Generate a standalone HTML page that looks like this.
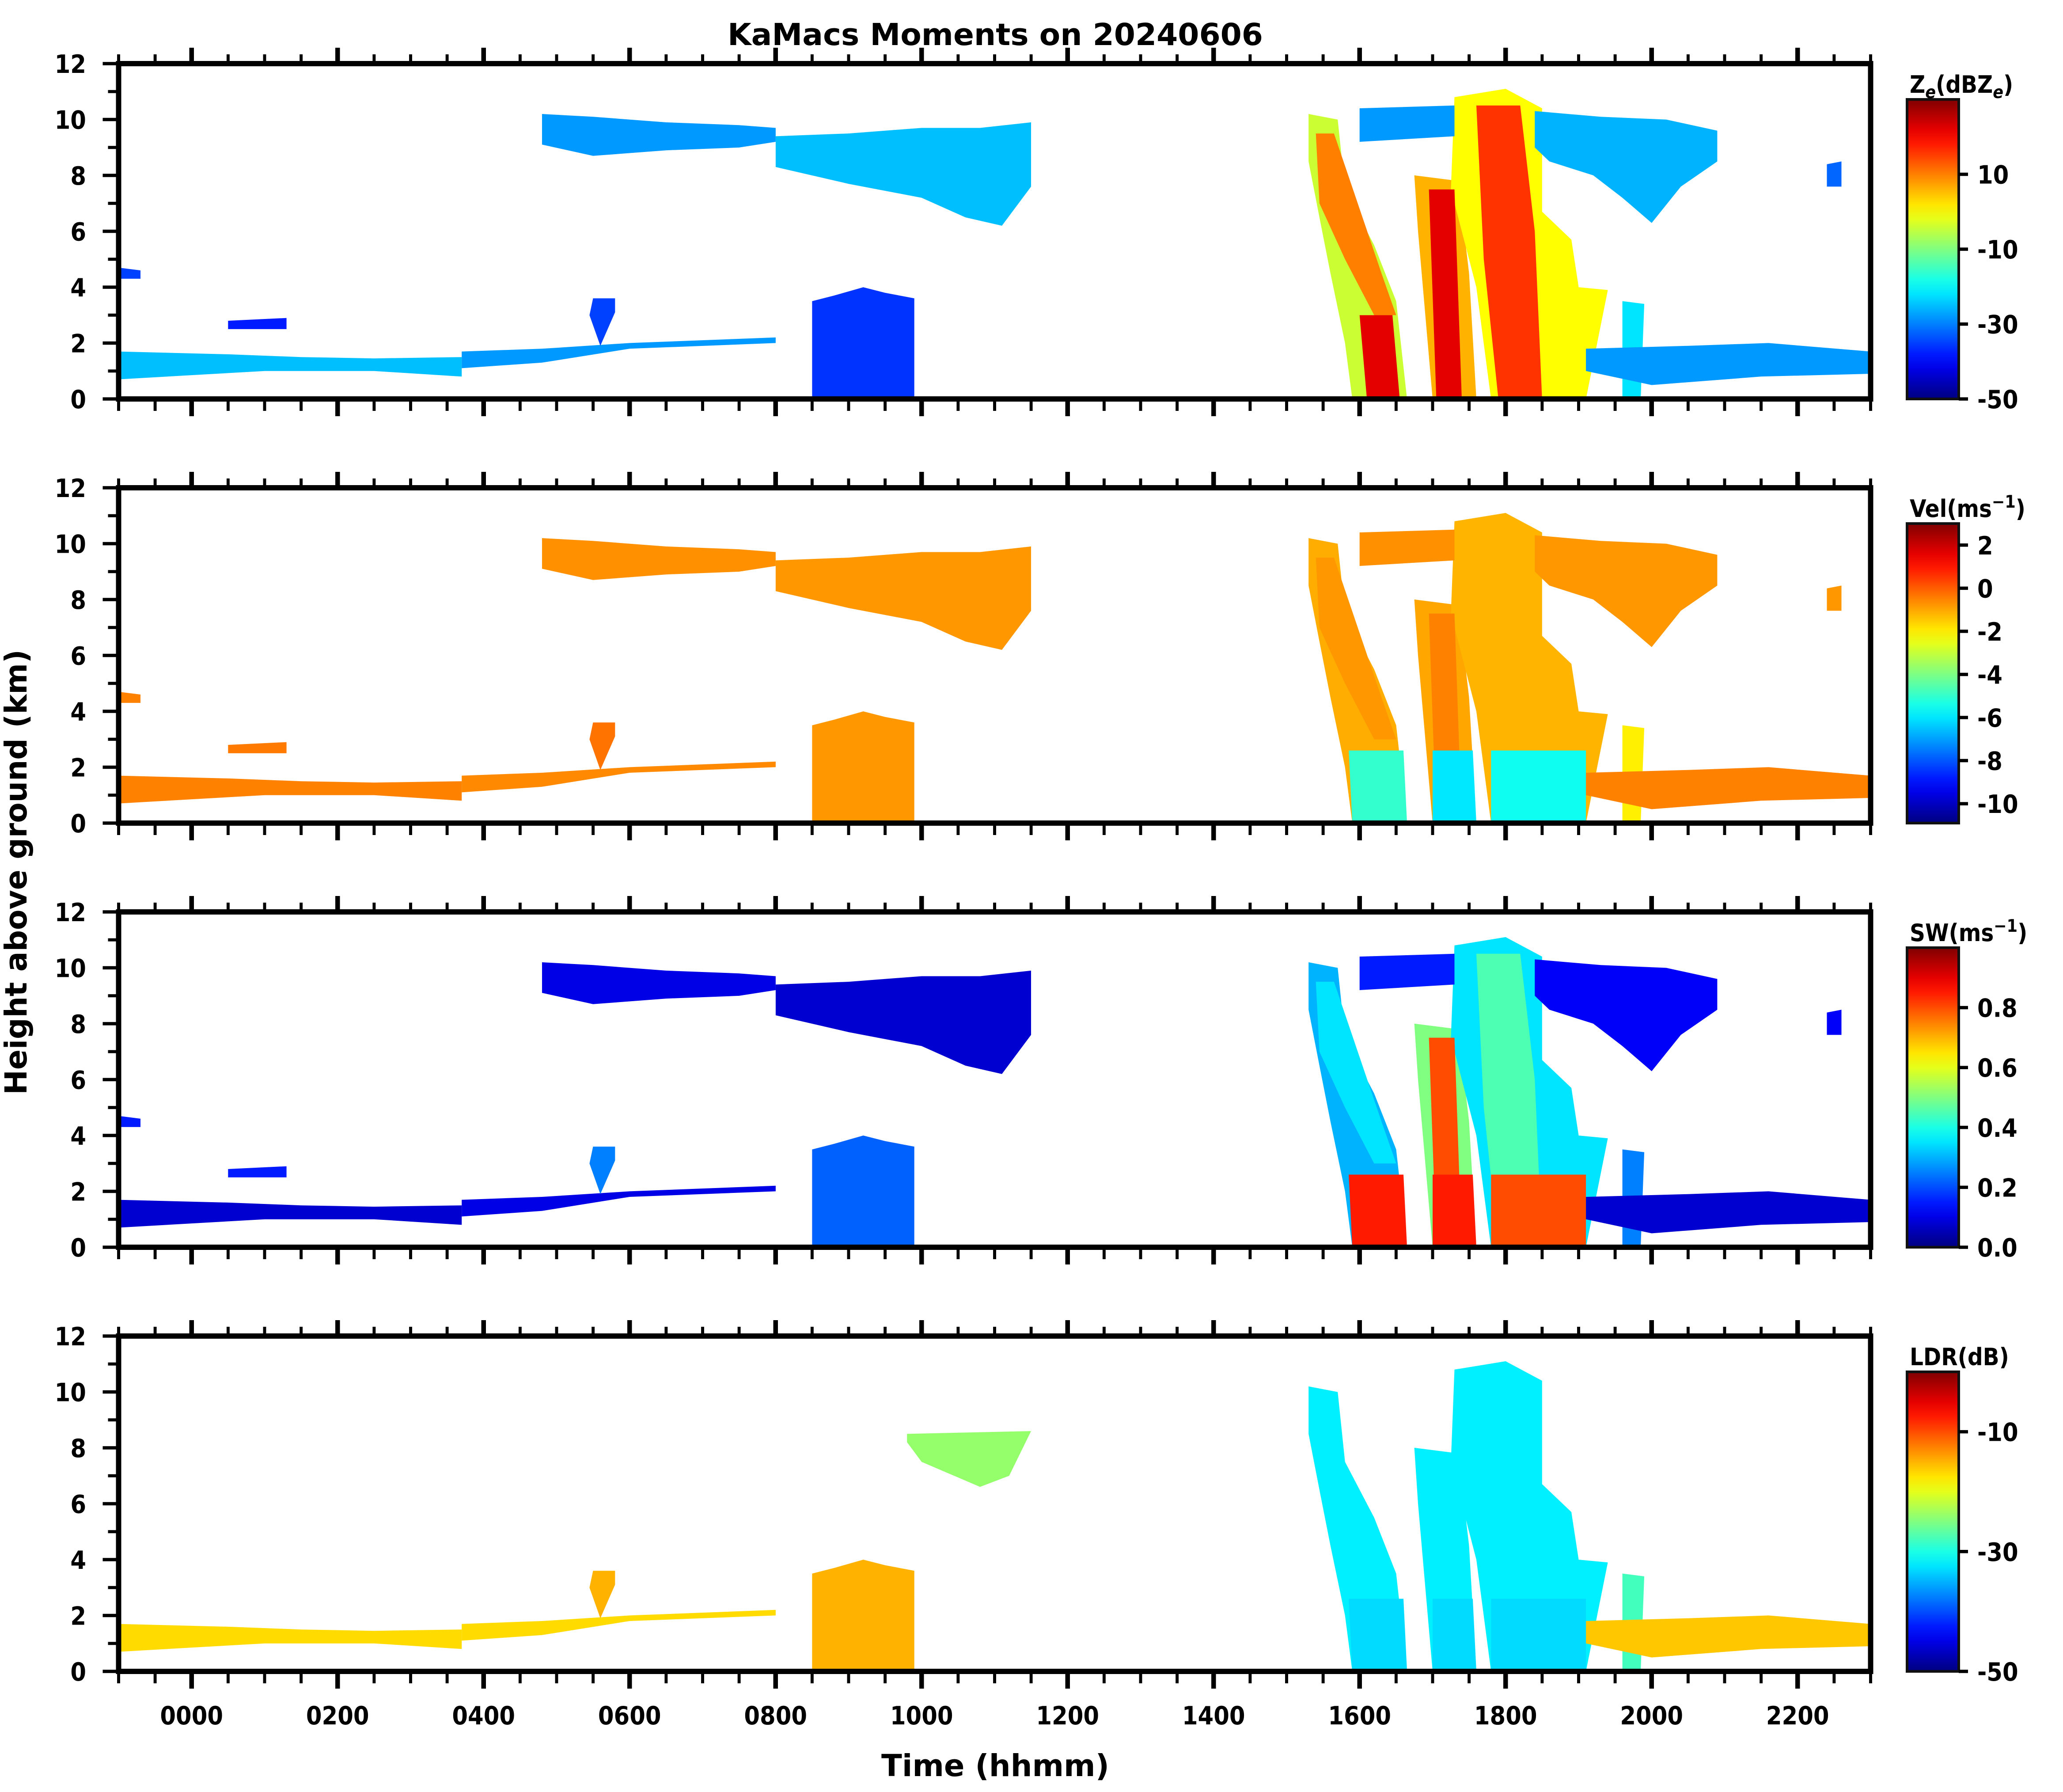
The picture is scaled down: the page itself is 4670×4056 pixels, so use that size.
<!DOCTYPE html>
<html><head><meta charset="utf-8"><style>
html,body{margin:0;padding:0;background:#fff;}
svg{display:block;}
text{font-family:"DejaVu Sans Condensed","DejaVu Sans","Liberation Sans",sans-serif;font-weight:bold;fill:#000;}
</style></head><body>
<svg id="fig" width="4670" height="4056" viewBox="0 0 1556.67 1352" xmlns="http://www.w3.org/2000/svg">
<text x="751" y="34" font-size="23" text-anchor="middle" textLength="404" lengthAdjust="spacingAndGlyphs">KaMacs Moments on 20240606</text>
<text transform="translate(20,658) rotate(-90)" font-size="23" text-anchor="middle" textLength="336" lengthAdjust="spacingAndGlyphs">Height above ground (km)</text>
<text x="751" y="1340" font-size="23" text-anchor="middle" textLength="172" lengthAdjust="spacingAndGlyphs">Time (hhmm)</text>
<g id="layer"></g>
</svg>
<script>
// ---- data ----
const panelNames = ["ze","vel","sw","ldr"];
const yTicks = [0,2,4,6,8,10,12];
const yMinorTicks = [1,3,5,7,9,11];
const xTickHours = [0,2,4,6,8,10,12,14,16,18,20,22];
const xTickLabels = ["0000","0200","0400","0600","0800","1000","1200","1400","1600","1800","2000","2200"];
const cbRanges = [[-50,30],[-10.9,3],[0,1],[-50,0]];
const cbTicks = [[10,-10,-30,-50],[2,0,-2,-4,-6,-8,-10],[0.8,0.6,0.4,0.2,0.0],[-10,-30,-50]];
const cbTickLabels = [["10","-10","-30","-50"],["2","0","-2","-4","-6","-8","-10"],["0.8","0.6","0.4","0.2","0.0"],["-10","-30","-50"]];
// echo outlines: [hour, km] points
const cloudShapes = [
 [[-1,4.7],[-0.7,4.6],[-0.7,4.3],[-1,4.3]],
 [[-1,1.7],[0.5,1.6],[1.5,1.5],[2.5,1.45],[3.7,1.5],[3.7,0.8],[2.5,1.0],[1,1.0],[-1,0.7]],
 [[3.7,1.7],[4.8,1.8],[6,2.0],[8,2.2],[8,2.0],[6,1.8],[4.8,1.3],[3.7,1.1]],
 [[0.5,2.8],[1.3,2.9],[1.3,2.5],[0.5,2.5]],
 [[4.8,10.2],[5.5,10.1],[6.5,9.9],[7.5,9.8],[8.0,9.7],[8.0,9.2],[7.5,9.0],[6.5,8.9],[5.5,8.7],[4.8,9.1]],
 [[8.0,9.4],[9.0,9.5],[10.0,9.7],[10.8,9.7],[11.5,9.9],[11.5,7.6],[11.1,6.2],[10.6,6.5],[10.0,7.2],[9.0,7.7],[8.0,8.3]],
 [[5.5,3.6],[5.8,3.6],[5.8,3.1],[5.6,1.9],[5.45,3.0]],
 [[8.5,3.5],[8.8,3.7],[9.2,4.0],[9.5,3.8],[9.9,3.6],[9.9,0],[8.5,0]],
 [[15.3,10.2],[15.7,10.0],[15.8,7.5],[16.2,5.5],[16.5,3.5],[16.65,0],[15.9,0],[15.8,2],[15.6,4.5],[15.45,6.5],[15.3,8.5]],
 [[16.75,8.0],[17.35,7.8],[17.5,4.5],[17.6,0],[17.0,0],[16.9,3],[16.8,6]],
 [[17.3,10.8],[18.0,11.1],[18.5,10.4],[18.5,6.7],[18.9,5.7],[19.0,4.0],[19.4,3.9],[19.3,2.6],[19.1,0],[17.8,0],[17.6,4],[17.25,7.5]],
 [[18.4,10.3],[19.3,10.1],[20.2,10.0],[20.9,9.6],[20.9,8.5],[20.4,7.6],[20.0,6.3],[19.6,7.2],[19.2,8.0],[18.6,8.5],[18.4,9.0]],
 [[16.0,10.4],[17.3,10.5],[17.3,9.4],[16.0,9.2]],
 [[19.6,3.5],[19.9,3.4],[19.85,0],[19.6,0]],
 [[19.1,1.8],[20.5,1.9],[21.6,2.0],[23,1.7],[23,0.9],[21.5,0.8],[20,0.5],[19.1,1.0]],
 [[22.4,8.4],[22.6,8.5],[22.6,7.6],[22.4,7.6]],
 [[15.4,9.5],[15.65,9.5],[16.3,4.5],[16.5,3],[16.2,3],[15.8,5],[15.45,7]],
 [[16.0,3],[16.45,3],[16.55,0],[16.1,0]],
 [[16.95,7.5],[17.3,7.5],[17.4,0],[17.05,0]],
 [[17.6,10.5],[18.2,10.5],[18.4,6],[18.5,0],[17.9,0],[17.7,5]],
 [[15.85,2.6],[16.6,2.6],[16.65,0],[15.9,0]],
 [[17.0,2.6],[17.55,2.6],[17.6,0],[17.0,0]],
 [[17.8,2.6],[19.1,2.6],[19.1,0],[17.8,0]],
 [[9.8,8.5],[11.5,8.6],[11.2,7.0],[10.8,6.6],[10.0,7.5],[9.8,8.2]]
];
const zeValues  = [-35,-25,-28,-38,-28,-25,-35,-36,-4,6,0,-26,-28,-22,-28,-32,10,22,22,16,null,null,null,null];
const velValues = [-0.5,-0.5,-0.6,-0.4,-0.7,-0.8,-0.3,-0.8,-1.1,-1.0,-1.2,-0.8,-0.7,-2,-0.5,-0.8,-0.8,null,-0.5,-1.2,-5,-6,-5.5,null];
const swValues  = [0.15,0.08,0.1,0.15,0.1,0.08,0.25,0.22,0.3,0.5,0.35,0.12,0.15,0.25,0.08,0.12,0.35,null,0.8,0.45,0.85,0.85,0.8,null];
const ldrValues = [null,-17,-17,null,null,null,-15,-15,-32,-32,-32,null,null,-28,-16,null,null,null,null,null,-33,-33,-33,-24];
const panelValues = [zeValues,velValues,swValues,ldrValues];

// ---- layout ----
const NS="http://www.w3.org/2000/svg";
const layer=document.getElementById('layer');
const X0=89.5,X1=1411.5,T0=-1,T1=23;
const panelTops=[48,368,688,1008], PH=253;
const CBX=1439, CBW=39, CBOFF=27;
function xs(t){return X0+(t-T0)/(T1-T0)*(X1-X0);}
function ys(p,z){return panelTops[p]+PH-z/12*PH;}
function jet(f){f=Math.max(0,Math.min(1,f));
 const r=Math.max(0,Math.min(1,1.5-Math.abs(4*f-3))),g=Math.max(0,Math.min(1,1.5-Math.abs(4*f-2))),b=Math.max(0,Math.min(1,1.5-Math.abs(4*f-1)));
 return `rgb(${Math.round(r*255)},${Math.round(g*255)},${Math.round(b*255)})`;}
function mk(tag,attrs,parent){const e=document.createElementNS(NS,tag);for(const k in attrs)e.setAttribute(k,attrs[k]);(parent||layer).appendChild(e);return e;}

const defs=mk('defs',{});
const grad=mk('linearGradient',{id:'jetgrad',x1:0,y1:1,x2:0,y2:0},defs);
for(let i=0;i<=20;i++){mk('stop',{offset:i/20,'stop-color':jet(i/20)},grad);}

for(let p=0;p<4;p++){
 const g=mk('g',{});
 
 
 const [lo,hi]=cbRanges[p];
 const vals=panelValues[p];
 cloudShapes.forEach((shape,i)=>{
  const v=vals[i]; if(v===null||v===undefined) return;
  const pts=shape.map(([t,z])=>xs(t).toFixed(1)+','+ys(p,z).toFixed(1)).join(' ');
  const poly=mk('polygon',{points:pts,fill:jet((v-lo)/(hi-lo))},g);
  
  
 });
 const top=panelTops[p],bot=top+PH;
 const fr=mk('rect',{x:X0,y:top,width:X1-X0,height:PH,fill:'none',stroke:'#000','stroke-width':4},g);
 
 
 yTicks.forEach(z=>{
  mk('line',{x1:X0-12,x2:X0,y1:ys(p,z),y2:ys(p,z),stroke:'#000','stroke-width':2.5},g);
  const tl=mk('text',{x:65,y:ys(p,z)+7,'font-size':19,'text-anchor':'end'},g);
  tl.textContent=z;
  
  
 });
 yMinorTicks.forEach(z=>{mk('line',{x1:X0-8,x2:X0,y1:ys(p,z),y2:ys(p,z),stroke:'#000','stroke-width':2.3},g);});
 for(let t=T0;t<=T1+1e-6;t+=0.5){
  const major=Math.abs(t/2-Math.round(t/2))<1e-6;
  mk('line',{x1:xs(t),x2:xs(t),y1:bot,y2:bot+(major?13:9),stroke:'#000','stroke-width':major?3.5:2.3},g);
  mk('line',{x1:xs(t),x2:xs(t),y1:top-(major?12:7),y2:top,stroke:'#000','stroke-width':major?3.5:2.3},g);
 }
 const cbTop=top+CBOFF,cbH=PH-CBOFF;
 const cb=mk('rect',{x:CBX,y:cbTop,width:CBW,height:cbH,fill:'url(#jetgrad)',stroke:'#111','stroke-width':2},g);
 
 
 cbTicks[p].forEach((v,j)=>{
  const y=cbTop+cbH-(v-lo)/(hi-lo)*cbH;
  mk('line',{x1:CBX+CBW,x2:CBX+CBW+7,y1:y,y2:y,stroke:'#000','stroke-width':2.5},g);
  const t=mk('text',{x:1492,y:y+7,'font-size':19},g);
  t.textContent=cbTickLabels[p][j];
  
  
 });
}
xTickLabels.forEach((lab,i)=>{
 const t=mk('text',{x:xs(xTickHours[i]),y:1301,'font-size':19,'text-anchor':'middle'});
 t.textContent=lab;
 
 
});
const cbTitles=[
 '<tspan>Z</tspan><tspan font-size="13" dy="4" font-style="italic">e</tspan><tspan dy="-4">(dBZ</tspan><tspan font-size="13" dy="4" font-style="italic">e</tspan><tspan dy="-4">)</tspan>',
 'Vel(ms<tspan font-size="13" dy="-7">−1</tspan><tspan dy="7">)</tspan>',
 'SW(ms<tspan font-size="13" dy="-7">−1</tspan><tspan dy="7">)</tspan>',
 'LDR(dB)'];
cbTitles.forEach((h,p)=>{
 const t=mk('text',{x:1441,y:panelTops[p]+22,'font-size':18});
 t.innerHTML=h;
 
 
});
</script>
</body></html>
